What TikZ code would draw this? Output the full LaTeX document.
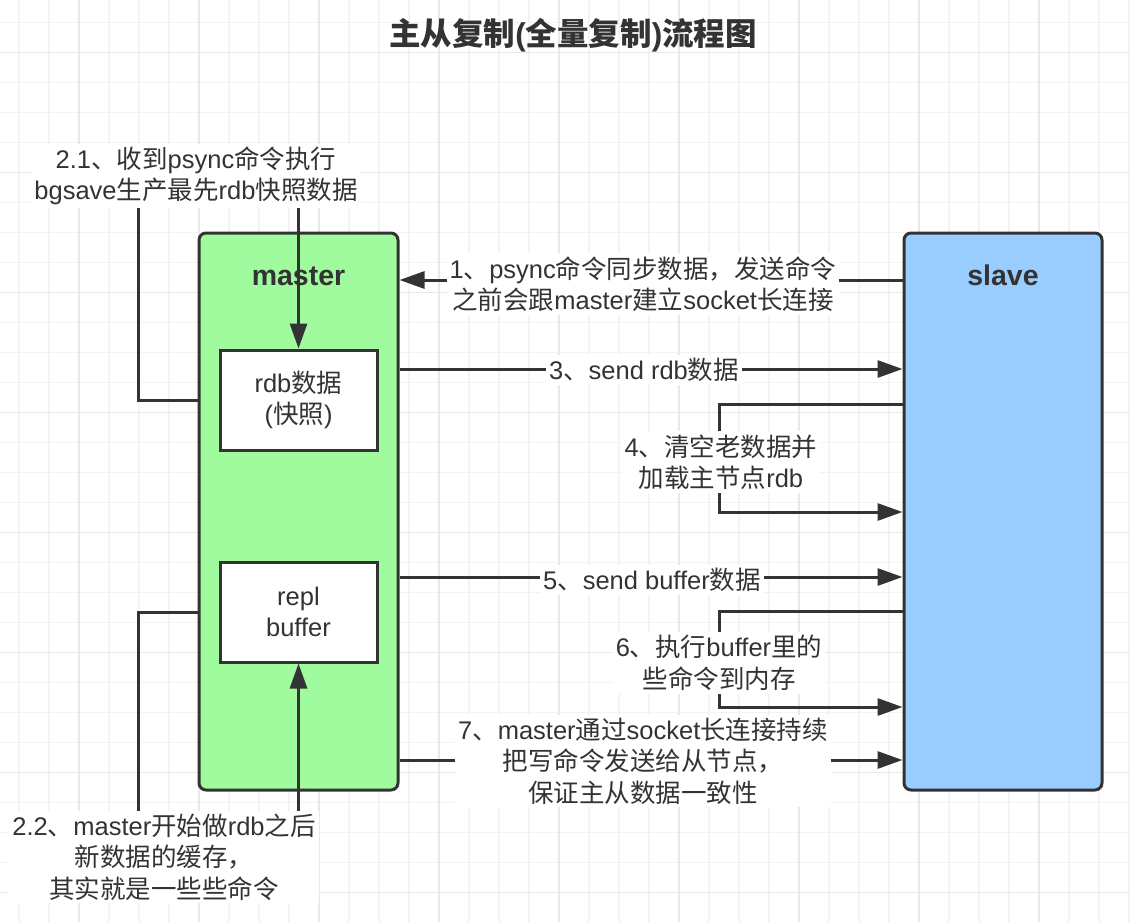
\documentclass[tikz,border=0pt]{standalone}
\usepackage{fontspec}
\setmainfont{Liberation Sans}
\newfontfamily\zhfont{Noto Sans CJK SC}
\newcommand\zh[1]{{\zhfont #1}}
\usetikzlibrary{arrows.meta}
\definecolor{linec}{RGB}{51,51,51}
\definecolor{textc}{RGB}{51,51,51}
\definecolor{gridminor}{RGB}{243,243,243}
\definecolor{gridmajor}{RGB}{232,232,232}
\definecolor{mastergreen}{RGB}{160,250,158}
\definecolor{slaveblue}{RGB}{153,204,255}
\pgfdeclarelayer{grid}
\pgfdeclarelayer{labels}
\pgfsetlayers{grid,main,labels}
\tikzset{
  hostbox/.style={draw=linec, line width=3pt, rounded corners=7pt, inner sep=0pt,
    minimum width=199pt, minimum height=557pt},
  hostname/.style={text=textc, anchor=base, font=\fontsize{28.5}{34}\selectfont\bfseries},
  databox/.style={draw=linec, line width=3pt, fill=white, inner sep=0pt,
    minimum width=157pt, minimum height=100pt, text=textc, align=center,
    font=\fontsize{25.5}{31}\selectfont},
  lbl/.style={fill=white, text=textc, align=center, inner sep=3pt,
    font=\fontsize{25.5}{31.5}\selectfont},
  conn/.style={draw=linec, line width=3pt},
  arr/.style={conn, -{Triangle[length=25pt,width=17pt]}},
}
\begin{document}
\begin{tikzpicture}[x=1pt,y=-1pt]
\useasboundingbox (0,0) rectangle (1130,922);

% squared paper
\begin{pgfonlayer}{grid}
  \fill[white] (0,0) rectangle (1130,922);
  \foreach \k in {0,...,37} \draw[gridminor, line width=1.2pt] ({19+30*\k},0) -- ++(0,922);
  \foreach \k in {0,...,29} \draw[gridminor, line width=1.2pt] (0,{22.5+30*\k}) -- ++(1130,0);
  \foreach \k in {0,...,8} \draw[gridmajor, line width=1.2pt] ({79+120*\k},0) -- ++(0,922);
  \foreach \k in {0,...,7} \draw[gridmajor, line width=1.2pt] (0,{52.5+120*\k}) -- ++(1130,0);
\end{pgfonlayer}

% title
\node[text=textc, font=\fontsize{31.5}{36}\selectfont\bfseries] (title) at (573,35)
  {\zh{主从复制}(\zh{全量复制})\zh{流程图}};

% master and slave
\node[hostbox, fill=mastergreen] (master) at (298.5,511.5) {};
\node[hostname] (mastername) at (298.5,285) {master};
\node[databox] (rdb) at (298.5,400) {rdb\zh{数据}\\(\zh{快照})};
\node[databox] (repl) at (298.5,612) {repl\\buffer};
\node[hostbox, fill=slaveblue, minimum width=198pt] (slave) at (1003,511.5) {};
\node[hostname] (slavename) at (1003,285) {slave};

% step labels
\begin{pgfonlayer}{labels}
  \node[lbl] (l21) at (196,176) {2.1\zh{、收到}psync\zh{命令执行}\\bgsave\zh{生产最先}rdb\zh{快照数据}};
  \node[lbl] (l1) at (643,284) {1\zh{、}psync\zh{命令同步数据，发送命令}\\\zh{之前会跟}master\zh{建立}socket\zh{长连接}};
  \node[lbl] (l3) at (644,370) {3\zh{、}send rdb\zh{数据}};
  \node[lbl] (l4) at (721,462) {4\zh{、清空老数据并}\\\zh{加载主节点}rdb};
  \node[lbl] (l5) at (652,580) {5\zh{、}send buffer\zh{数据}};
  \node[lbl] (l6) at (719,663) {6\zh{、执行}buffer\zh{里的}\\\zh{些命令到内存}};
  \node[lbl] (l7) at (643,761) {7\zh{、}master\zh{通过}socket\zh{长连接持续}\\\zh{把写命令发送给从节点，}\\\zh{保证主从数据一致性}};
  \node[lbl] (l22) at (164,857) {2.2\zh{、}master\zh{开始做}rdb\zh{之后}\\\zh{新数据的缓存，}\\\zh{其实就是一些些命令}};
\end{pgfonlayer}

% lanes
\coordinate (xl) at (138,0);
\coordinate (xr) at (719,0);
\coordinate (r1) at (0,280);
\coordinate (r21) at (0,400);
\coordinate (r3) at (0,369);
\coordinate (r4a) at (0,404);
\coordinate (r4b) at (0,512);
\coordinate (r5) at (0,577);
\coordinate (r6a) at (0,611);
\coordinate (r6b) at (0,707);
\coordinate (r7) at (0,760);
\coordinate (r22) at (0,612);

% connectors
\draw[arr] (master.west |- r21) -- (xl |- r21) -- (xl |- l21) -- (rdb.north |- l21) -- (rdb.north);
\draw[arr] (master.west |- r22) -- (xl |- r22) -- (xl |- l22) -- (repl.south |- l22) -- (repl.south);
\draw[arr] (slave.west |- r1) -- (master.east |- r1);
\draw[arr] (master.east |- r3) -- (slave.west |- r3);
\draw[arr] (slave.west |- r4a) -- (xr |- r4a) -- (xr |- r4b) -- (slave.west |- r4b);
\draw[arr] (master.east |- r5) -- (slave.west |- r5);
\draw[arr] (slave.west |- r6a) -- (xr |- r6a) -- (xr |- r6b) -- (slave.west |- r6b);
\draw[arr] (master.east |- r7) -- (slave.west |- r7);
\end{tikzpicture}
\end{document}
